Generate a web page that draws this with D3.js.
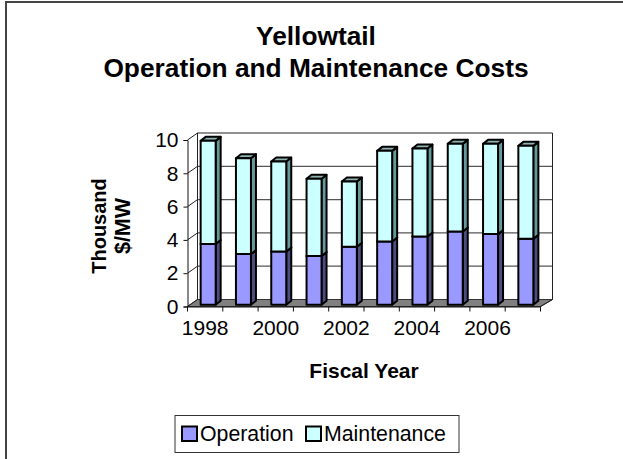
<!DOCTYPE html>
<html>
<head>
<meta charset="utf-8">
<script src="https://cdn.jsdelivr.net/npm/d3@7"></script>
<style>
    html, body { margin: 0; padding: 0; background: #fff; }
    svg { display: block; }
    text { font-family: 'Liberation Sans', Arial, sans-serif; fill: #000; }
</style>
</head>
<body>
<svg id="chart" width="623" height="459"></svg>
<script>
const years = [1998, 1999, 2000, 2001, 2002, 2003, 2004, 2005, 2006, 2007]
const operation = [3.64, 3.04, 3.2, 2.92, 3.48, 3.8, 4.1, 4.4, 4.24, 3.96]
const maintenance = [6.2, 5.76, 5.4, 4.64, 3.92, 5.44, 5.28, 5.26, 5.42, 5.58]
const yTicks = [0, 2, 4, 6, 8, 10]
const yearLabels = [1998, 2000, 2002, 2004, 2006]
const seriesNames = ['Operation', 'Maintenance']

const colors = {
    Operation: { front: '#9999ff', side: '#4d4d80', top: '#7a7acc' },
    Maintenance: { front: '#ccffff', side: '#669999', top: '#8fb3b3' }
}

const svg = d3.select('#chart')

// page edge, only top and left are visible in the original
svg.append('path')
    .attr('d', 'M6,459V2H623')
    .attr('fill', 'none')
    .attr('stroke', '#444')
    .attr('stroke-width', 2)

const rows = years.map((year, i) => ({
    year,
    Operation: operation[i],
    Maintenance: maintenance[i]
}))
const stacked = d3.stack().keys(seriesNames)(rows)

const x = d3.scaleBand().domain(years).range([187.5, 540.5])
const y = d3.scaleLinear().domain([0, 10]).range([306.5, 140])
const yBack = d3.scaleLinear().domain([0, 10]).range([299.5, 133])

// walls and floor
const backLeft = 197.5
const backRight = 552.5
const wall = svg.append('g')

wall.append('path')
    .attr('d', `M${x.range()[0]},${y(0)}L${backLeft},${yBack(0)}H${backRight}L${x.range()[1]},${y(0)}Z`)
    .attr('fill', '#808080')
    .attr('stroke', '#333')

wall.selectAll('line.grid')
    .data(yTicks.filter((d) => d > 0))
    .join('line')
    .attr('class', 'grid')
    .attr('x1', backLeft)
    .attr('x2', backRight)
    .attr('y1', (d) => yBack(d))
    .attr('y2', (d) => yBack(d))
    .attr('stroke', (d) => (d === 10 ? '#222' : '#555'))
    .attr('stroke-width', 1.2)

wall.selectAll('line.side')
    .data(yTicks)
    .join('line')
    .attr('class', 'side')
    .attr('x1', x.range()[0])
    .attr('x2', backLeft)
    .attr('y1', (d) => y(d))
    .attr('y2', (d) => yBack(d))
    .attr('stroke', '#222')

wall.append('path')
    .attr('d', `M${backLeft},${yBack(0)}V${yBack(10)}M${backRight},${yBack(10)}V${yBack(0)}L${x.range()[1]},${y(0)}`)
    .attr('fill', 'none')
    .attr('stroke', '#222')

// bars
const barWidth = 15
const nearX = 3
const nearY = 1.8
const depthX = 5
const depthY = 4

const bars = svg.append('g')
    .attr('stroke', '#000')
    .attr('stroke-width', 2)
    .attr('stroke-linejoin', 'round')

years.forEach((year, i) => {
    const left = x(year) + (x.step() - barWidth) / 2 + nearX
    const right = left + barWidth
    stacked.forEach((layer) => {
        const c = colors[layer.key]
        const bottom = y(layer[i][0]) - nearY
        const top = y(layer[i][1]) - nearY
        const g = bars.append('g')
        g.append('path')
            .attr('d', `M${right},${bottom}V${top}l${depthX},${-depthY}V${bottom - depthY}Z`)
            .attr('fill', c.side)
        g.append('path')
            .attr('d', `M${left},${top}H${right}l${depthX},${-depthY}H${left + depthX}Z`)
            .attr('fill', c.top)
        g.append('rect')
            .attr('x', left)
            .attr('y', top)
            .attr('width', barWidth)
            .attr('height', bottom - top)
            .attr('fill', c.front)
    })
})

// axes
const yAxis = svg.append('g')
    .attr('transform', `translate(${x.range()[0]},0)`)
    .call(d3.axisLeft(y).tickValues(yTicks).tickSize(4).tickPadding(5))
yAxis.selectAll('text').attr('font-size', 21).attr('font-family', null)
yAxis.selectAll('path,line').attr('stroke', '#111')

const xAxis = svg.append('g')
    .attr('transform', `translate(0,${y(0)})`)
    .call(d3.axisBottom(x).tickValues(yearLabels).tickSize(0).tickPadding(14).tickFormat(d3.format('d')))
xAxis.selectAll('text').attr('font-size', 21).attr('font-family', null)
xAxis.select('.domain').attr('stroke', '#111')

// tick marks sit between the categories
xAxis.selectAll('line.edge')
    .data(years.concat('end'))
    .join('line')
    .attr('class', 'edge')
    .attr('x1', (d) => (d === 'end' ? x.range()[1] : x(d)))
    .attr('x2', (d) => (d === 'end' ? x.range()[1] : x(d)))
    .attr('y1', 0)
    .attr('y2', 5)
    .attr('stroke', '#111')

// titles
const title = svg.append('text')
    .attr('text-anchor', 'middle')
    .attr('font-size', 26.3)
    .attr('font-weight', 'bold')
title.append('tspan').attr('x', 316).attr('y', 45).text('Yellowtail')
title.append('tspan').attr('x', 316).attr('y', 77).text('Operation and Maintenance Costs')

const yTitle = svg.append('text')
    .attr('transform', 'translate(106,226) rotate(-90)')
    .attr('text-anchor', 'middle')
    .attr('font-size', 20)
    .attr('font-weight', 'bold')
yTitle.append('tspan').attr('x', 0).attr('y', 0).text('Thousand')
yTitle.append('tspan').attr('x', 0).attr('y', 24).attr('font-size', 21.5).text('$/MW')

svg.append('text')
    .attr('x', 364)
    .attr('y', 378)
    .attr('text-anchor', 'middle')
    .attr('font-size', 21)
    .attr('font-weight', 'bold')
    .text('Fiscal Year')

// legend
const legend = svg.append('g')
legend.append('rect')
    .attr('x', 175)
    .attr('y', 415.5)
    .attr('width', 284)
    .attr('height', 37)
    .attr('fill', '#fff')
    .attr('stroke', '#333')

const legendPos = d3.scaleOrdinal().domain(seriesNames).range([182, 306])
const item = legend.selectAll('g')
    .data(seriesNames)
    .join('g')
    .attr('transform', (d) => `translate(${legendPos(d)},426.5)`)
item.append('rect')
    .attr('width', 15)
    .attr('height', 14.5)
    .attr('fill', (d) => colors[d].front)
    .attr('stroke', '#000')
    .attr('stroke-width', 2)
item.append('text')
    .attr('x', 18)
    .attr('y', 14.5)
    .attr('font-size', 21.3)
    .text((d) => d)
</script>
</body>
</html>
